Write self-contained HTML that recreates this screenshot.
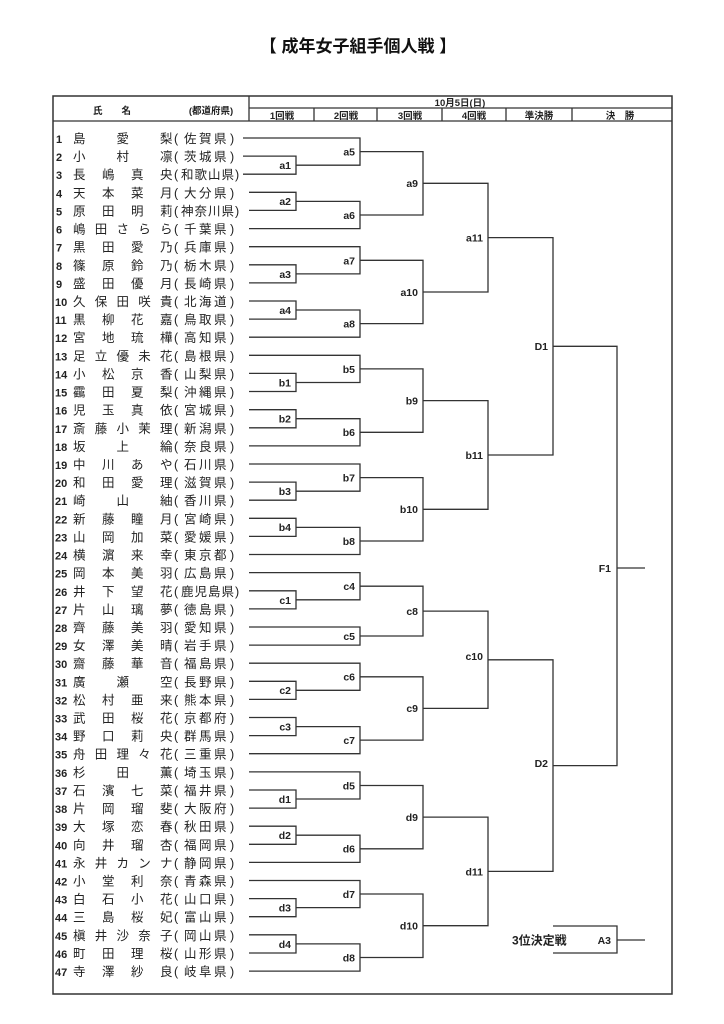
<!DOCTYPE html>
<html><head><meta charset="utf-8"><style>
html,body{margin:0;padding:0;background:#fff}
svg{display:block}
.t{font-family:"Liberation Sans","Noto Sans CJK JP",sans-serif}
.nm{font-family:"Liberation Sans","Noto Sans CJK JP",sans-serif;font-size:12.5px;fill:#222}
.no{font-family:"Liberation Sans",sans-serif;font-size:11px;font-weight:bold;fill:#222}
.lb{font-family:"Liberation Sans",sans-serif;font-size:10.5px;font-weight:bold;fill:#222;text-anchor:end}
.h{font-family:"Liberation Sans","Noto Sans CJK JP",sans-serif;font-size:9.5px;font-weight:bold;fill:#222;text-anchor:middle}
path{fill:none;stroke:#333;stroke-width:1.3}
</style></head><body>
<svg width="724" height="1024" viewBox="0 0 724 1024" xmlns="http://www.w3.org/2000/svg">
<defs>
<style>.nm tspan{}</style>
</defs>
<text class="t" x="358" y="52" font-size="17" font-weight="bold" text-anchor="middle" fill="#111">【 成年女子組手個人戦 】</text>
<rect x="53" y="96" width="619" height="898" fill="none" stroke="#333" stroke-width="1.5"/>
<path d="M249 96V121M249 108H672M53 121H672M314 108V121M377 108V121M442 108V121M506 108V121M572 108V121"/>
<text class="h" x="112" y="114" font-size="12">氏　　名</text>
<text class="h" x="211" y="114" font-size="10.5">(都道府県)</text>
<text class="h" x="460" y="106">10月5日(日)</text>
<text class="h" x="282" y="119">1回戦</text>
<text class="h" x="346" y="119">2回戦</text>
<text class="h" x="410" y="119">3回戦</text>
<text class="h" x="474" y="119">4回戦</text>
<text class="h" x="539" y="119">準決勝</text>
<text class="h" x="620" y="119">決　勝</text>

<g id="rows">
<g transform="translate(0,143)"><text class="no" x="56">1</text><text class="nm" x="73 116.5 160">島愛梨</text><text class="nm" x="174 184 199 214 230">(佐賀県)</text></g>
<g transform="translate(0,161.1)"><text class="no" x="56">2</text><text class="nm" x="73 116.5 160">小村凛</text><text class="nm" x="174 184 199 214 230">(茨城県)</text></g>
<g transform="translate(0,179.2)"><text class="no" x="56">3</text><text class="nm" x="73 102 131 160">長嶋真央</text><text class="nm" x="174 181 194.5 208 221.5 235">(和歌山県)</text></g>
<g transform="translate(0,197.3)"><text class="no" x="56">4</text><text class="nm" x="73 102 131 160">天本菜月</text><text class="nm" x="174 184 199 214 230">(大分県)</text></g>
<g transform="translate(0,215.4)"><text class="no" x="56">5</text><text class="nm" x="73 102 131 160">原田明莉</text><text class="nm" x="174 181 194.5 208 221.5 235">(神奈川県)</text></g>
<g transform="translate(0,233.6)"><text class="no" x="56">6</text><text class="nm" x="73 94.8 116.5 138.3 160">嶋田さらら</text><text class="nm" x="174 184 199 214 230">(千葉県)</text></g>
<g transform="translate(0,251.7)"><text class="no" x="56">7</text><text class="nm" x="73 102 131 160">黒田愛乃</text><text class="nm" x="174 184 199 214 230">(兵庫県)</text></g>
<g transform="translate(0,269.8)"><text class="no" x="56">8</text><text class="nm" x="73 102 131 160">篠原鈴乃</text><text class="nm" x="174 184 199 214 230">(栃木県)</text></g>
<g transform="translate(0,287.9)"><text class="no" x="56">9</text><text class="nm" x="73 102 131 160">盛田優月</text><text class="nm" x="174 184 199 214 230">(長崎県)</text></g>
<g transform="translate(0,306)"><text class="no" x="55">10</text><text class="nm" x="73 94.8 116.5 138.3 160">久保田咲貴</text><text class="nm" x="174 184 199 214 230">(北海道)</text></g>
<g transform="translate(0,324.1)"><text class="no" x="55">11</text><text class="nm" x="73 102 131 160">黒柳花嘉</text><text class="nm" x="174 184 199 214 230">(鳥取県)</text></g>
<g transform="translate(0,342.2)"><text class="no" x="55">12</text><text class="nm" x="73 102 131 160">宮地琉樺</text><text class="nm" x="174 184 199 214 230">(高知県)</text></g>
<g transform="translate(0,360.3)"><text class="no" x="55">13</text><text class="nm" x="73 94.8 116.5 138.3 160">足立優未花</text><text class="nm" x="174 184 199 214 230">(島根県)</text></g>
<g transform="translate(0,378.4)"><text class="no" x="55">14</text><text class="nm" x="73 102 131 160">小松京香</text><text class="nm" x="174 184 199 214 230">(山梨県)</text></g>
<g transform="translate(0,396.5)"><text class="no" x="55">15</text><text class="nm" x="73 102 131 160">靍田夏梨</text><text class="nm" x="174 184 199 214 230">(沖縄県)</text></g>
<g transform="translate(0,414.7)"><text class="no" x="55">16</text><text class="nm" x="73 102 131 160">児玉真依</text><text class="nm" x="174 184 199 214 230">(宮城県)</text></g>
<g transform="translate(0,432.8)"><text class="no" x="55">17</text><text class="nm" x="73 94.8 116.5 138.3 160">斎藤小茉理</text><text class="nm" x="174 184 199 214 230">(新潟県)</text></g>
<g transform="translate(0,450.9)"><text class="no" x="55">18</text><text class="nm" x="73 116.5 160">坂上綸</text><text class="nm" x="174 184 199 214 230">(奈良県)</text></g>
<g transform="translate(0,469)"><text class="no" x="55">19</text><text class="nm" x="73 102 131 160">中川あや</text><text class="nm" x="174 184 199 214 230">(石川県)</text></g>
<g transform="translate(0,487.1)"><text class="no" x="55">20</text><text class="nm" x="73 102 131 160">和田愛理</text><text class="nm" x="174 184 199 214 230">(滋賀県)</text></g>
<g transform="translate(0,505.2)"><text class="no" x="55">21</text><text class="nm" x="73 116.5 160">崎山紬</text><text class="nm" x="174 184 199 214 230">(香川県)</text></g>
<g transform="translate(0,523.3)"><text class="no" x="55">22</text><text class="nm" x="73 102 131 160">新藤瞳月</text><text class="nm" x="174 184 199 214 230">(宮崎県)</text></g>
<g transform="translate(0,541.4)"><text class="no" x="55">23</text><text class="nm" x="73 102 131 160">山岡加菜</text><text class="nm" x="174 184 199 214 230">(愛媛県)</text></g>
<g transform="translate(0,559.5)"><text class="no" x="55">24</text><text class="nm" x="73 102 131 160">横濵来幸</text><text class="nm" x="174 184 199 214 230">(東京都)</text></g>
<g transform="translate(0,577.6)"><text class="no" x="55">25</text><text class="nm" x="73 102 131 160">岡本美羽</text><text class="nm" x="174 184 199 214 230">(広島県)</text></g>
<g transform="translate(0,595.8)"><text class="no" x="55">26</text><text class="nm" x="73 102 131 160">井下望花</text><text class="nm" x="174 181 194.5 208 221.5 235">(鹿児島県)</text></g>
<g transform="translate(0,613.9)"><text class="no" x="55">27</text><text class="nm" x="73 102 131 160">片山璃夢</text><text class="nm" x="174 184 199 214 230">(徳島県)</text></g>
<g transform="translate(0,632)"><text class="no" x="55">28</text><text class="nm" x="73 102 131 160">齊藤美羽</text><text class="nm" x="174 184 199 214 230">(愛知県)</text></g>
<g transform="translate(0,650.1)"><text class="no" x="55">29</text><text class="nm" x="73 102 131 160">女澤美晴</text><text class="nm" x="174 184 199 214 230">(岩手県)</text></g>
<g transform="translate(0,668.2)"><text class="no" x="55">30</text><text class="nm" x="73 102 131 160">齋藤華音</text><text class="nm" x="174 184 199 214 230">(福島県)</text></g>
<g transform="translate(0,686.3)"><text class="no" x="55">31</text><text class="nm" x="73 116.5 160">廣瀬空</text><text class="nm" x="174 184 199 214 230">(長野県)</text></g>
<g transform="translate(0,704.4)"><text class="no" x="55">32</text><text class="nm" x="73 102 131 160">松村亜来</text><text class="nm" x="174 184 199 214 230">(熊本県)</text></g>
<g transform="translate(0,722.5)"><text class="no" x="55">33</text><text class="nm" x="73 102 131 160">武田桜花</text><text class="nm" x="174 184 199 214 230">(京都府)</text></g>
<g transform="translate(0,740.6)"><text class="no" x="55">34</text><text class="nm" x="73 102 131 160">野口莉央</text><text class="nm" x="174 184 199 214 230">(群馬県)</text></g>
<g transform="translate(0,758.7)"><text class="no" x="55">35</text><text class="nm" x="73 94.8 116.5 138.3 160">舟田理々花</text><text class="nm" x="174 184 199 214 230">(三重県)</text></g>
<g transform="translate(0,776.9)"><text class="no" x="55">36</text><text class="nm" x="73 116.5 160">杉田薫</text><text class="nm" x="174 184 199 214 230">(埼玉県)</text></g>
<g transform="translate(0,795)"><text class="no" x="55">37</text><text class="nm" x="73 102 131 160">石濱七菜</text><text class="nm" x="174 184 199 214 230">(福井県)</text></g>
<g transform="translate(0,813.1)"><text class="no" x="55">38</text><text class="nm" x="73 102 131 160">片岡瑠斐</text><text class="nm" x="174 184 199 214 230">(大阪府)</text></g>
<g transform="translate(0,831.2)"><text class="no" x="55">39</text><text class="nm" x="73 102 131 160">大塚恋春</text><text class="nm" x="174 184 199 214 230">(秋田県)</text></g>
<g transform="translate(0,849.3)"><text class="no" x="55">40</text><text class="nm" x="73 102 131 160">向井瑠杏</text><text class="nm" x="174 184 199 214 230">(福岡県)</text></g>
<g transform="translate(0,867.4)"><text class="no" x="55">41</text><text class="nm" x="73 94.8 116.5 138.3 160">永井カンナ</text><text class="nm" x="174 184 199 214 230">(静岡県)</text></g>
<g transform="translate(0,885.5)"><text class="no" x="55">42</text><text class="nm" x="73 102 131 160">小堂利奈</text><text class="nm" x="174 184 199 214 230">(青森県)</text></g>
<g transform="translate(0,903.6)"><text class="no" x="55">43</text><text class="nm" x="73 102 131 160">白石小花</text><text class="nm" x="174 184 199 214 230">(山口県)</text></g>
<g transform="translate(0,921.7)"><text class="no" x="55">44</text><text class="nm" x="73 102 131 160">三島桜妃</text><text class="nm" x="174 184 199 214 230">(富山県)</text></g>
<g transform="translate(0,939.8)"><text class="no" x="55">45</text><text class="nm" x="73 94.8 116.5 138.3 160">槇井沙奈子</text><text class="nm" x="174 184 199 214 230">(岡山県)</text></g>
<g transform="translate(0,958)"><text class="no" x="55">46</text><text class="nm" x="73 102 131 160">町田理桜</text><text class="nm" x="174 184 199 214 230">(山形県)</text></g>
<g transform="translate(0,976.1)"><text class="no" x="55">47</text><text class="nm" x="73 102 131 160">寺澤紗良</text><text class="nm" x="174 184 199 214 230">(岐阜県)</text></g>
</g>

<path d="
M243 138H249 M243 156.1H249 M243 174.2H249
M249 156.1H296V174.2H249 M249 192.3H296V210.4H249 M249 264.8H296V282.9H249 M249 301H296V319.1H249
M249 138H360V165.2H296 M296 201.4H360V228.6H249 M249 246.7H360V273.9H296 M296 310H360V337.2H249
M360 151.6H423V215H360 M360 260.3H423V323.6H360 M423 183.3H488V292H423
M249 373.4H296V391.5H249 M249 409.7H296V427.8H249 M249 482.1H296V500.2H249 M249 518.3H296V536.4H249
M249 355.3H360V382.5H296 M296 418.7H360V445.9H249 M249 464H360V491.2H296 M296 527.4H360V554.5H249
M360 368.9H423V432.3H360 M360 477.6H423V541H360 M423 400.6H488V509.3H423
M488 237.6H553V455H488
M249 590.8H296V608.9H249 M249 681.3H296V699.4H249 M249 717.5H296V735.6H249
M249 572.6H360V599.8H296 M249 627H360V645.1H249 M249 663.2H360V690.3H296 M296 726.6H360V753.7H249
M360 586.2H423V636H360 M360 676.8H423V740.1H360 M423 611.1H488V708.4H423
M249 790H296V808.1H249 M249 826.2H296V844.3H249 M249 898.6H296V916.7H249 M249 934.8H296V953H249
M249 771.9H360V799H296 M296 835.2H360V862.4H249 M249 880.5H360V907.6H296 M296 943.9H360V971.1H249
M360 785.5H423V848.8H360 M360 894H423V957.5H360 M423 817.1H488V925.7H423
M488 659.8H553V871.4H488
M553 346.3H617V765.6H553 M617 568H645
M553 926H617V953H553 M617 940H645
"/>

<g>
<text class="lb" x="291" y="169">a1</text><text class="lb" x="291" y="205">a2</text><text class="lb" x="291" y="278">a3</text><text class="lb" x="291" y="314">a4</text>
<text class="lb" x="355" y="155.5">a5</text><text class="lb" x="355" y="219">a6</text><text class="lb" x="355" y="264.5">a7</text><text class="lb" x="355" y="327.5">a8</text>
<text class="lb" x="418" y="187">a9</text><text class="lb" x="418" y="296">a10</text><text class="lb" x="483" y="241.5">a11</text>
<text class="lb" x="291" y="386.5">b1</text><text class="lb" x="291" y="422.5">b2</text><text class="lb" x="291" y="495">b3</text><text class="lb" x="291" y="531">b4</text>
<text class="lb" x="355" y="373">b5</text><text class="lb" x="355" y="436">b6</text><text class="lb" x="355" y="481.5">b7</text><text class="lb" x="355" y="545">b8</text>
<text class="lb" x="418" y="404.5">b9</text><text class="lb" x="418" y="513">b10</text><text class="lb" x="483" y="459">b11</text>
<text class="lb" x="548" y="350">D1</text>
<text class="lb" x="291" y="604">c1</text><text class="lb" x="291" y="694">c2</text><text class="lb" x="291" y="730.5">c3</text>
<text class="lb" x="355" y="590">c4</text><text class="lb" x="355" y="640">c5</text><text class="lb" x="355" y="680.5">c6</text><text class="lb" x="355" y="744">c7</text>
<text class="lb" x="418" y="615">c8</text><text class="lb" x="418" y="712">c9</text><text class="lb" x="483" y="660">c10</text>
<text class="lb" x="291" y="803">d1</text><text class="lb" x="291" y="839">d2</text><text class="lb" x="291" y="911.5">d3</text><text class="lb" x="291" y="948">d4</text>
<text class="lb" x="355" y="789.5">d5</text><text class="lb" x="355" y="852.5">d6</text><text class="lb" x="355" y="898">d7</text><text class="lb" x="355" y="961.5">d8</text>
<text class="lb" x="418" y="821">d9</text><text class="lb" x="418" y="929.5">d10</text><text class="lb" x="483" y="875.5">d11</text>
<text class="lb" x="548" y="767">D2</text>
<text class="lb" x="611" y="572">F1</text>
<text class="lb" x="611" y="944">A3</text>
<text class="t" x="512" y="944.5" font-size="12" font-weight="bold" fill="#222">3位決定戦</text>
</g>
</svg>
</body></html>
